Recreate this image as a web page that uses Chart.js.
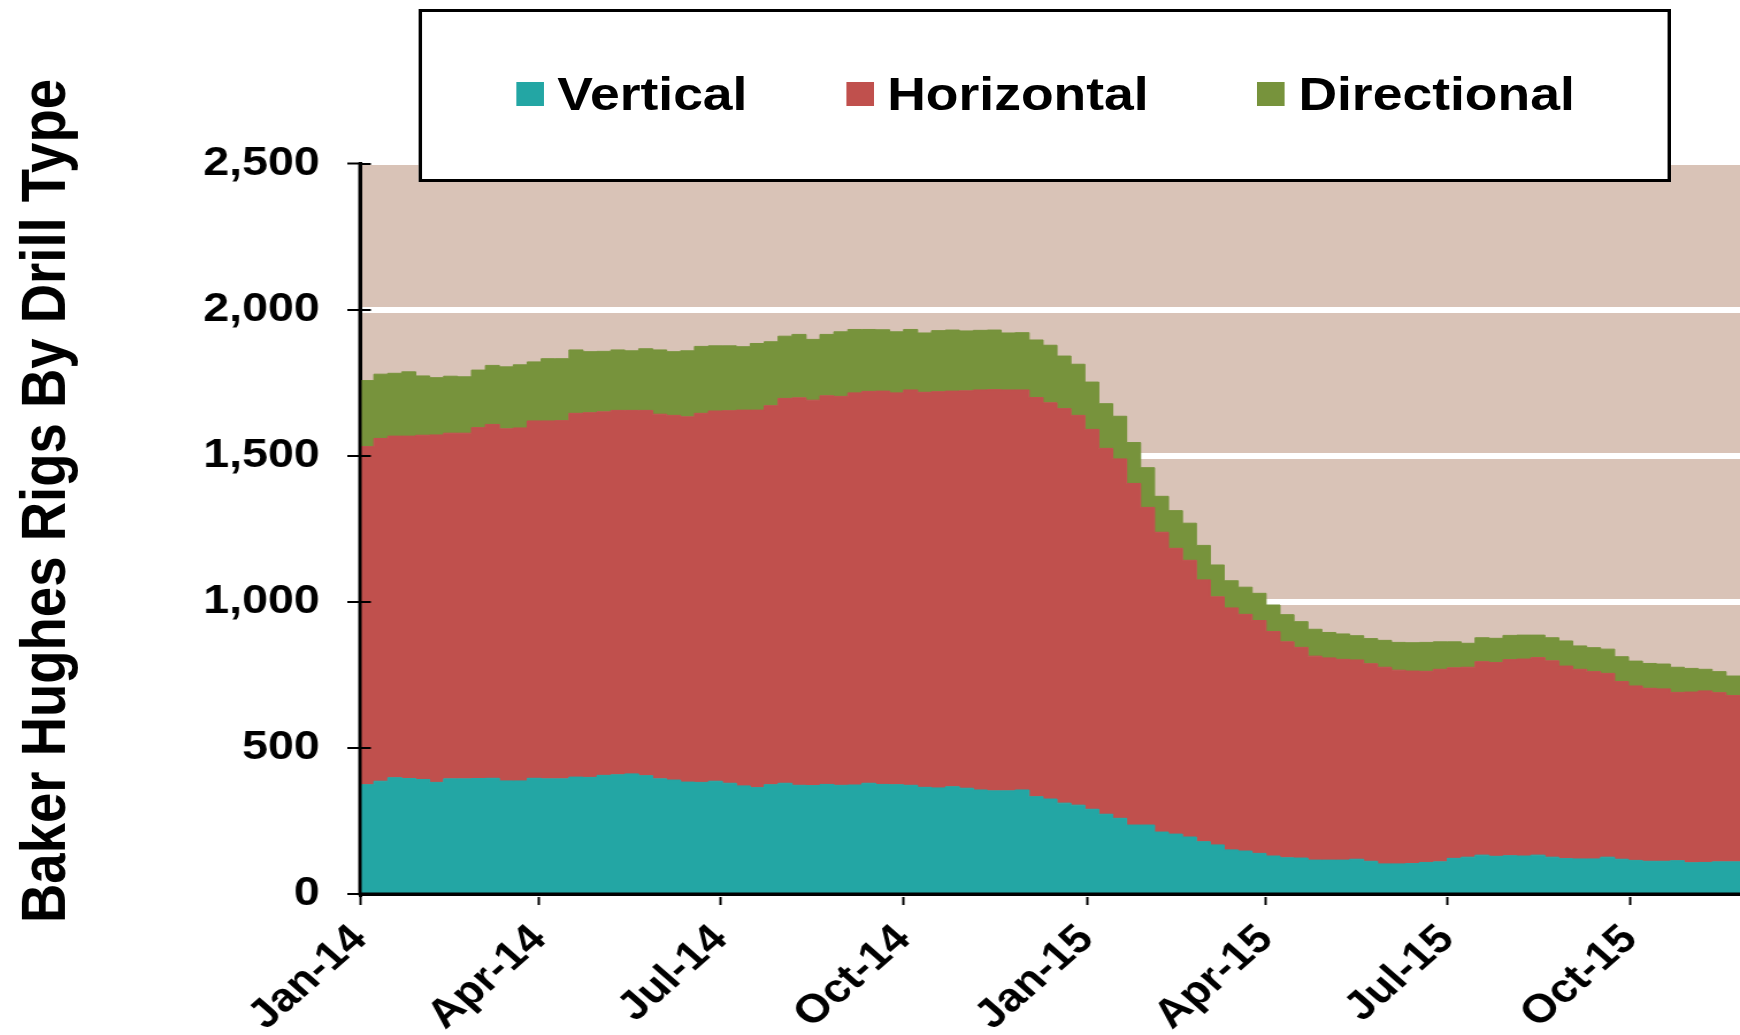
<!DOCTYPE html>
<html>
<head>
<meta charset="utf-8">
<script src="https://cdn.jsdelivr.net/npm/chart.js@4.4.1/dist/chart.umd.min.js"></script>
<style>
  html, body { margin: 0; padding: 0; background: #ffffff; overflow: hidden; }
  #stage { position: absolute; left: 0; top: 0; width: 1513px; height: 1035px; transform-origin: 0 0; }
  #c { position: absolute; left: 0; top: 0; }
  #ytitle {
    position: absolute; left: -414.3px; top: 471px; width: 900px; height: 60px; line-height: 60px;
    text-align: center; font: bold 54.5px "Liberation Sans", Arial, sans-serif; color: #000;
    transform: rotate(-90deg); transform-origin: 50% 50%; white-space: nowrap;
  }
  #legend {
    position: absolute; left: 363.5px; top: 9px; width: 1083px; height: 167px;
    border: 3px solid #000; background: #fff;
  }
  .item { position: absolute; top: 82px; transform: translateY(-50%); display: flex; align-items: center;
    font: bold 46.5px "Liberation Sans", Arial, sans-serif; color: #000; white-space: nowrap; }
  .sw { width: 24px; height: 24px; margin-right: 12px; flex: none; }
</style>
</head>
<body>
<div id="stage">
  <canvas id="c" width="1513" height="1035"></canvas>
  <div id="ytitle">Baker Hughes Rigs By Drill Type</div>
  <div id="legend"></div>
</div>
<script>
// ---- data (weekly rig counts, days since 1 Jan 2014) ----
const weekDays = Array.from({length: 100}, (_, k) => 7 * k);
const vertical = [
  379,374,386,398,395,392,382,394,394,395,396,387,387,396,394,394,400,399,406,408,
  411,405,394,390,383,382,386,379,370,364,374,379,372,371,375,372,373,379,375,374,
  372,365,363,367,362,356,353,353,356,333,325,311,304,290,273,259,236,236,212,205,
  195,179,168,151,147,139,130,124,123,116,116,116,119,112,103,103,104,108,110,122,
  126,133,129,131,130,133,126,121,120,120,126,119,115,112,112,114,107,108,110,110
];
const horizontal = [
  1150,1157,1173,1169,1172,1178,1189,1183,1183,1201,1211,1205,1208,1223,1225,1226,1245,1248,1244,1247,
  1244,1250,1248,1248,1250,1263,1267,1275,1286,1292,1297,1317,1326,1319,1330,1331,1342,1341,1346,1341,
  1353,1352,1356,1354,1360,1369,1373,1372,1369,1366,1356,1350,1334,1300,1252,1230,1169,1087,1026,978,
  947,896,849,828,810,797,768,739,721,698,692,687,682,676,673,663,659,654,659,652,
  650,662,663,671,674,676,672,659,649,641,629,608,597,592,590,576,584,587,579,569
];
const directional = [
  224,226,220,215,220,203,196,195,193,197,202,212,216,202,213,212,217,209,207,207,
  204,211,220,218,226,229,223,222,217,228,219,213,217,208,210,221,217,212,210,209,
  207,203,209,209,205,204,204,195,196,197,197,180,175,162,153,146,140,136,123,129,
  127,118,109,93,93,93,91,93,88,92,87,87,83,86,92,95,97,99,94,89,
  82,82,83,83,82,77,79,86,80,82,83,85,85,85,85,86,81,74,72,67
];
const seriesNames = ['Vertical', 'Horizontal', 'Directional'];
const seriesColors = ['#23A6A4', '#C0504D', '#77933C'];
const tickDays = [0, 90, 181, 273, 365, 455, 546, 638];
const tickLabels = ['Jan-14', 'Apr-14', 'Jul-14', 'Oct-14', 'Jan-15', 'Apr-15', 'Jul-15', 'Oct-15'];
const yMax = 2500, yStep = 500;

// ---- layout ----
const W = 1513, H = 1035, S = 1740 / W;
document.getElementById('stage').style.transform = 'scaleX(' + S + ')';
const FONT = '"Liberation Sans", Arial, sans-serif';

const legend = document.getElementById('legend');
const legendLeft = [82, 369, 726.5];
seriesNames.forEach((n, i) => {
  const it = document.createElement('div');
  it.className = 'item';
  it.style.left = legendLeft[i] + 'px';
  const sw = document.createElement('span');
  sw.className = 'sw';
  sw.style.background = seriesColors[i];
  const tx = document.createElement('span');
  tx.textContent = n;
  it.appendChild(sw); it.appendChild(tx);
  legend.appendChild(it);
});

const plotBg = {
  id: 'plotBg',
  beforeDraw(chart) {
    const {ctx, chartArea: a} = chart;
    ctx.save();
    ctx.fillStyle = '#D9C3B7';
    ctx.fillRect(a.left, a.top, a.right - a.left, a.bottom - a.top);
    ctx.restore();
  }
};
// axis lines and the inner half of the y tick marks, drawn over the areas
const axisOverlay = {
  id: 'axisOverlay',
  afterDraw(chart) {
    const {ctx, chartArea: a} = chart;
    const ys = chart.scales.y;
    ctx.save();
    ctx.strokeStyle = '#000';
    ctx.lineWidth = 2;
    ys.ticks.forEach(t => {
      const py = Math.round(ys.getPixelForValue(t.value));
      ctx.beginPath();
      ctx.moveTo(a.left, py);
      ctx.lineTo(a.left + 9.5, py);
      ctx.stroke();
    });
    ctx.lineWidth = 3;
    ctx.beginPath();
    ctx.moveTo(a.left, a.top - 1);
    ctx.lineTo(a.left, a.bottom);
    ctx.lineTo(a.right, a.bottom);
    ctx.stroke();
    ctx.restore();
  }
};

const series = [vertical, horizontal, directional];
const datasets = series.map((d, i) => ({
  label: seriesNames[i],
  data: d,
  backgroundColor: seriesColors[i],
  borderColor: seriesColors[i],
  borderWidth: 1,
  pointRadius: 0,
  stepped: 'after',
  fill: i === 0 ? 'origin' : '-1'
}));

new Chart(document.getElementById('c'), {
  type: 'line',
  data: { labels: weekDays, datasets },
  plugins: [plotBg, axisOverlay],
  options: {
    responsive: false,
    animation: false,
    devicePixelRatio: 1,
    layout: { padding: { top: 163.5, left: 0, right: 0, bottom: 0 } },
    plugins: { legend: { display: false }, tooltip: { enabled: false } },
    scales: {
      x: {
        type: 'linear',
        min: 0,
        max: 693,
        afterBuildTicks(scale) { scale.ticks = tickDays.map(v => ({ value: v })); },
        afterFit(scale) { scale.height = H - 894; },
        grid: { drawOnChartArea: false, tickColor: '#000', tickLength: 11, tickWidth: 2 },
        border: { color: '#000', width: 3 },
        ticks: {
          autoSkip: false, maxRotation: 45, minRotation: 45, padding: 11,
          color: '#000', font: { family: FONT, size: 40, weight: 'bold' },
          callback: (v, i) => tickLabels[i]
        }
      },
      y: {
        stacked: true,
        min: 0,
        max: yMax,
        afterFit(scale) { scale.width = 313; },
        grid: {
          color: '#ffffff',
          lineWidth: c => (c.tick && c.tick.value === yMax ? 3 : 6),
          tickColor: '#000', tickLength: 11, tickWidth: 2
        },
        border: { color: '#000', width: 3 },
        ticks: {
          stepSize: yStep, padding: 24, color: '#000',
          font: { family: FONT, size: 40.5, weight: 'bold' },
          callback: v => v.toLocaleString('en-US')
        }
      }
    }
  }
});
</script>
</body>
</html>
